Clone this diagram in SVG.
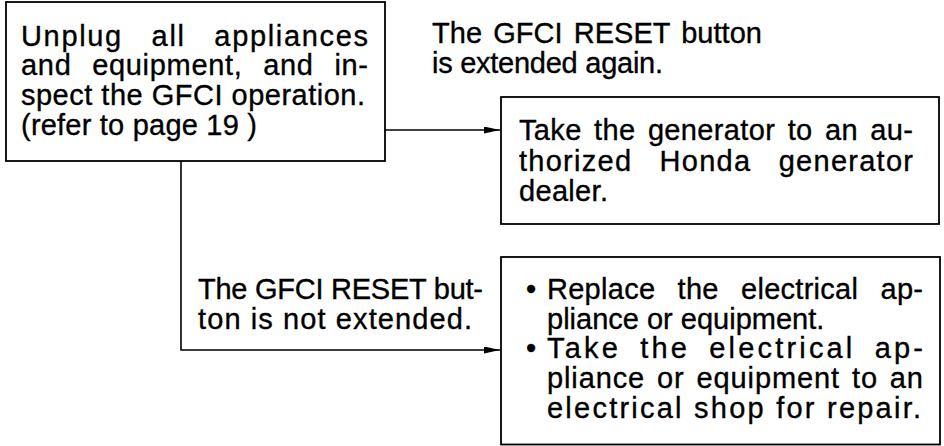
<svg xmlns="http://www.w3.org/2000/svg" width="944" height="446" viewBox="0 0 944 446">
<style>
.box{fill:#fff;stroke:#000;stroke-width:1.8}
.t{font-family:"Liberation Sans",Arial,sans-serif;font-size:29px;fill:#000;stroke:#000;stroke-width:0.35px}
.ln{fill:none;stroke:#000;stroke-width:1.6}
</style>
<defs>
<marker id="arr" markerUnits="userSpaceOnUse" viewBox="0 0 16 7" refX="16" refY="3.5" markerWidth="16" markerHeight="7" orient="auto">
<path d="M0,0 L16,3.5 L0,7 z" fill="#000"/>
</marker>
</defs>
<rect width="944" height="446" fill="#fff"/>
<g id="connectors">
<path class="ln" d="M385,130 H500" marker-end="url(#arr)"/>
<path class="ln" d="M181,161 V350 H500" marker-end="url(#arr)"/>
</g>
<g id="node-inspect">
<rect class="box" x="6" y="2" width="379" height="159"/>
<text class="t" x="21" y="45.5" textLength="347" lengthAdjust="spacing" word-spacing="19">Unplug all appliances</text>
<text class="t" x="21" y="75" textLength="347" lengthAdjust="spacing" word-spacing="12">and equipment, and in-</text>
<text class="t" x="21" y="105" textLength="344" lengthAdjust="spacing">spect the GFCI operation.</text>
<text class="t" x="21" y="135" textLength="236" lengthAdjust="spacing">(refer to page 19 )</text>
</g>
<g id="label-extended">
<text class="t" x="432" y="43" textLength="330" lengthAdjust="spacing" word-spacing="3">The GFCI RESET button</text>
<text class="t" x="432" y="73" textLength="231" lengthAdjust="spacing">is extended again.</text>
</g>
<g id="node-dealer">
<rect class="box" x="501" y="97" width="438" height="127"/>
<text class="t" x="519" y="140" textLength="394" lengthAdjust="spacing" word-spacing="4">Take the generator to an au-</text>
<text class="t" x="519" y="171" textLength="394" lengthAdjust="spacing" word-spacing="18">thorized Honda generator</text>
<text class="t" x="519" y="201" textLength="89" lengthAdjust="spacing">dealer.</text>
</g>
<g id="label-not-extended">
<text class="t" x="198" y="298.5" textLength="285" lengthAdjust="spacing">The GFCI RESET but-</text>
<text class="t" x="198" y="328.5" textLength="274" lengthAdjust="spacing">ton is not extended.</text>
</g>
<g id="node-replace">
<rect class="box" x="501" y="257" width="439" height="187.5"/>
<text class="t" x="526" y="299">•</text>
<text class="t" x="547" y="299" textLength="376" lengthAdjust="spacing" word-spacing="14">Replace the electrical ap-</text>
<text class="t" x="547" y="328.5">pliance or equipment.</text>
<text class="t" x="526" y="358">•</text>
<text class="t" x="547" y="358" textLength="376" lengthAdjust="spacing" word-spacing="8">Take the electrical ap-</text>
<text class="t" x="547" y="388" textLength="376" lengthAdjust="spacing" word-spacing="3">pliance or equipment to an</text>
<text class="t" x="547" y="417.5" textLength="374" lengthAdjust="spacing">electrical shop for repair.</text>
</g>
</svg>
